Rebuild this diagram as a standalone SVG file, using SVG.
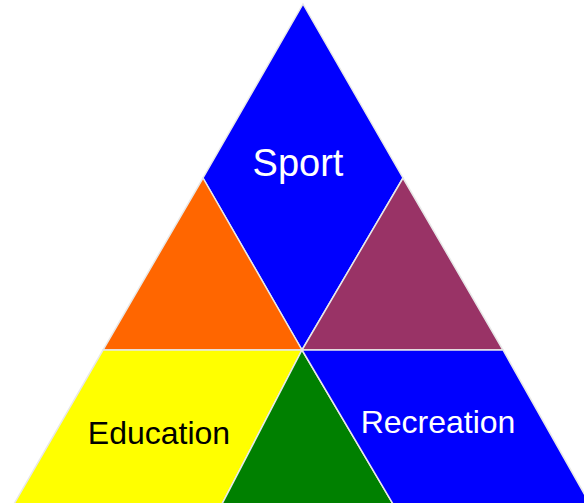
<svg xmlns="http://www.w3.org/2000/svg" width="584" height="503" viewBox="0 0 584 503">
<style>
.p{stroke:#e8e8e8;stroke-width:1.5;stroke-linejoin:miter}
.t{font-family:"Liberation Sans",Arial,sans-serif}
</style>
<rect width="584" height="503" fill="#ffffff"/>
<g id="sport"><polygon class="p" fill="#0000ff" points="303,4 403,178 302,350 203,178"/><text class="t" x="298" y="176" font-size="38" fill="#ffffff" text-anchor="middle">Sport</text></g>
<g id="orange"><polygon class="p" fill="#ff6600" points="203,178 302,350 103,350"/></g>
<g id="purple"><polygon class="p" fill="#993366" points="403,178 503,350 302,350"/></g>
<g id="education"><polygon class="p" fill="#ffff00" points="103,350 302,350 222,504 14,504"/><text class="t" x="159" y="444" font-size="32" fill="#000000" text-anchor="middle">Education</text></g>
<g id="green"><polygon class="p" fill="#008000" points="302,350 393,504 222,504"/></g>
<g id="recreation"><polygon class="p" fill="#0000ff" points="302,350 503,350 590,504 393,504"/><text class="t" x="438" y="433" font-size="32" fill="#ffffff" text-anchor="middle">Recreation</text></g>
<g id="connectors"></g>
</svg>
